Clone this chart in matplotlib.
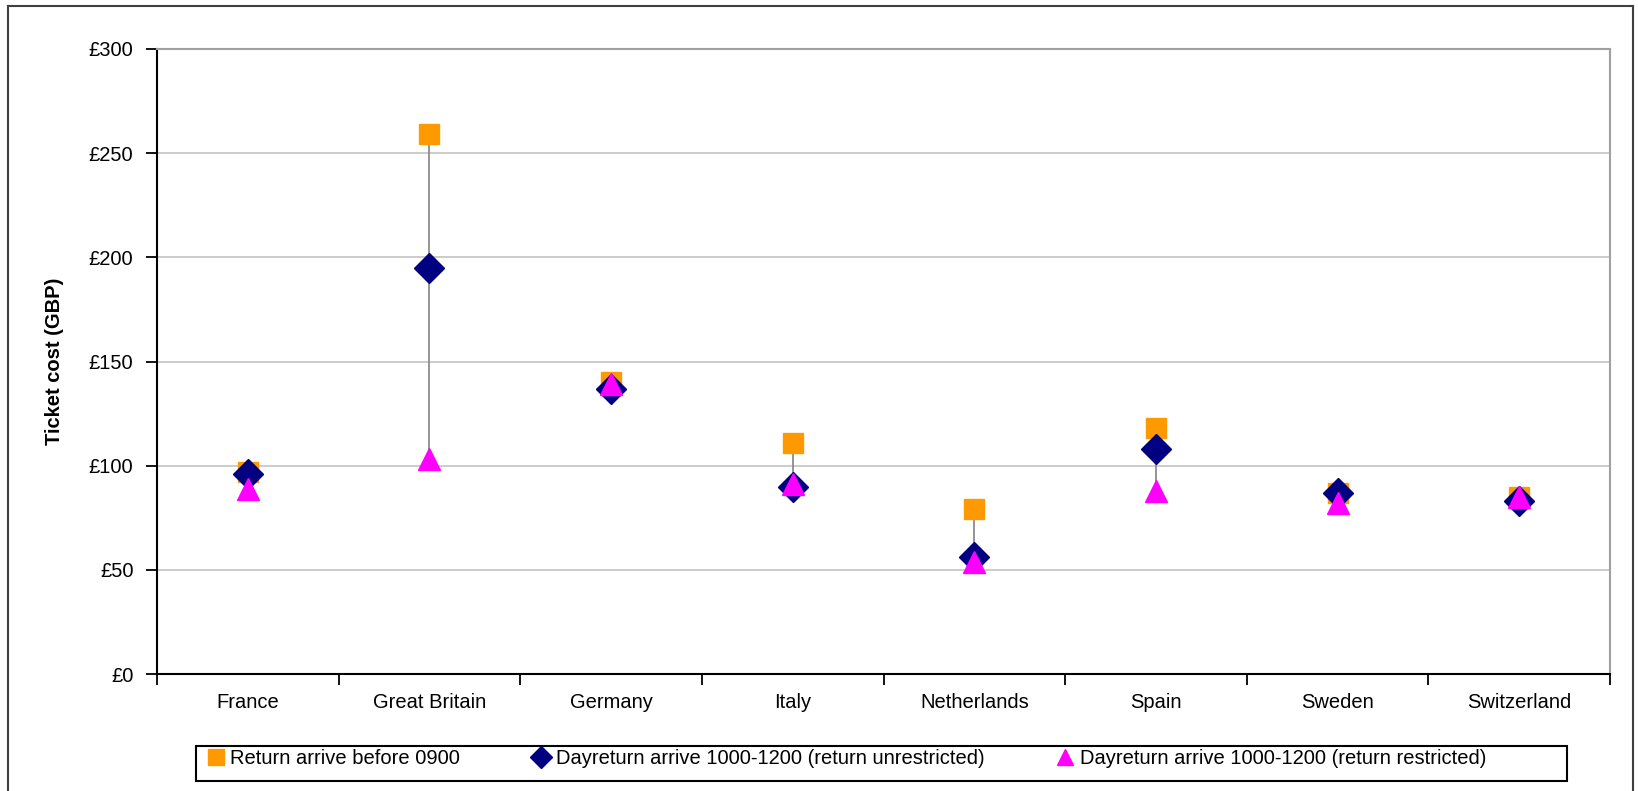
import matplotlib
matplotlib.use("Agg")
import matplotlib.pyplot as plt
from matplotlib.lines import Line2D
from matplotlib.patches import Rectangle
import numpy as np

plt.rcParams["font.family"] = ["Liberation Sans", "DejaVu Sans"]

paises = ["France", "Great Britain", "Germany", "Italy", "Netherlands",
          "Spain", "Sweden", "Switzerland"]
antes_0900 = [97, 259, 140, 111, 79, 118, 87, 85]
sem_restricao = [96, 195, 137, 90, 56, 108, 87, 83]
com_restricao = [89, 103, 139, 91, 54, 88, 82, 85]
ticks_y = [0, 50, 100, 150, 200, 250, 300]

rotulos_legenda = [
    "Return arrive before 0900",
    "Dayreturn arrive 1000-1200 (return unrestricted)",
    "Dayreturn arrive 1000-1200 (return restricted)",
]

W, H = 1638, 791
tam_fonte = 14.5

fig = plt.figure(figsize=(W / 100, H / 100), dpi=100)
ax = fig.add_axes([157 / W, 1 - 674 / H, (1610 - 157) / W, (674 - 49) / H])

x = np.arange(len(paises)) + 0.5
valores = np.array([antes_0900, sem_restricao, com_restricao])

# linhas máximo-mínimo
ax.vlines(x, valores.min(axis=0), valores.max(axis=0), color="#8c8c8c", lw=1.3, zorder=2)

ax.plot(x, antes_0900, ls="none", marker="s", ms=15, color="#FF9900",
        label=rotulos_legenda[0], zorder=3)
ax.plot(x, sem_restricao, ls="none", marker="D", ms=15, color="#000080",
        label=rotulos_legenda[1], zorder=4)
ax.plot(x, com_restricao, ls="none", marker="^", ms=16, color="#FF00FF",
        label=rotulos_legenda[2], zorder=5)

ax.set_xlim(0, len(paises))
ax.set_ylim(0, 300)
ax.set_yticks(ticks_y)
ax.set_yticklabels([f"£{v}" for v in ticks_y], fontsize=tam_fonte)
ax.set_xticks(np.arange(len(paises) + 1))
ax.set_xticklabels([])
ax.set_xticks(x, minor=True)
ax.set_xticklabels(paises, minor=True, fontsize=tam_fonte)
ax.tick_params(axis="x", which="minor", length=0, pad=14)
ax.tick_params(axis="x", which="major", direction="out", length=8, width=1.3)
ax.tick_params(axis="y", direction="out", length=8, width=1.3, pad=9)

ax.yaxis.grid(True, color="#c8c8c8", lw=1.3)
ax.set_axisbelow(True)
for lado in ["left", "bottom"]:
    ax.spines[lado].set_color("black")
    ax.spines[lado].set_linewidth(1.5)
for lado in ["top", "right"]:
    ax.spines[lado].set_color("#a0a0a0")
    ax.spines[lado].set_linewidth(1.5)

ax.set_ylabel("Ticket cost (GBP)", fontsize=tam_fonte, fontweight="bold", labelpad=18)

# legenda sem moldura própria; a caixa é desenhada à parte
fig.legend(loc="lower left", ncol=3, mode="expand",
           bbox_to_anchor=(200 / W, 1 - 774 / H, (1492 - 200) / W, 35 / H),
           fontsize=tam_fonte, frameon=False, borderaxespad=0, borderpad=0.3,
           handletextpad=0.2, handlelength=1.0, markerscale=0.75)
fig.add_artist(Rectangle((196 / W, 1 - 781 / H), (1567 - 196) / W, 35 / H,
                         transform=fig.transFigure, fill=False,
                         edgecolor="black", lw=1.5))

# moldura externa
cor_moldura = "#404040"
fig.add_artist(Line2D([8 / W, 8 / W], [0, 1 - 6 / H], transform=fig.transFigure,
                      color=cor_moldura, lw=1.5))
fig.add_artist(Line2D([8 / W, 1633 / W], [1 - 6 / H, 1 - 6 / H],
                      transform=fig.transFigure, color=cor_moldura, lw=1.5))
fig.add_artist(Line2D([1633 / W, 1633 / W], [0, 1 - 6 / H], transform=fig.transFigure,
                      color=cor_moldura, lw=1.5))

fig.savefig("out.png", dpi=100)
